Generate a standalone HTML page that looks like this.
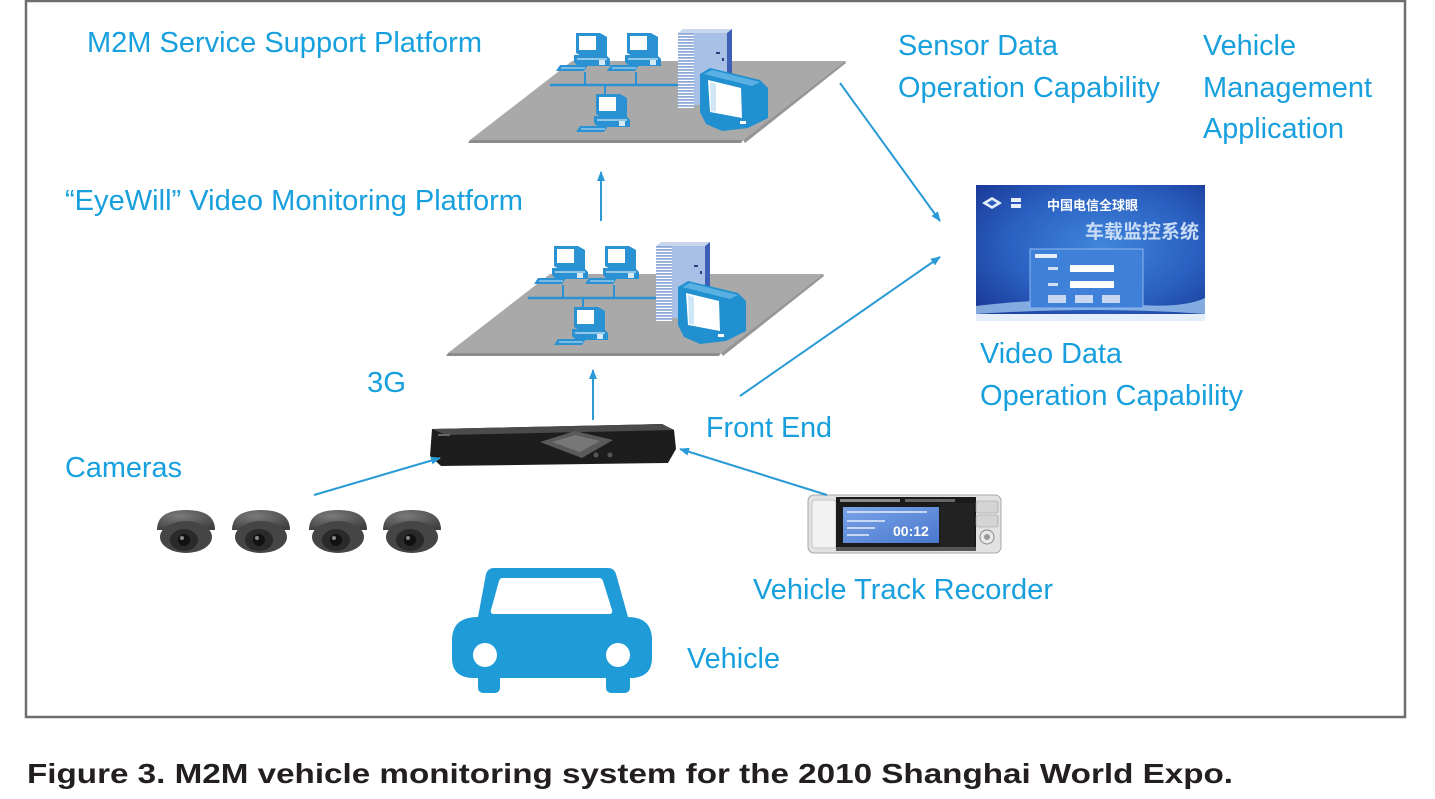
<!DOCTYPE html>
<html>
<head>
<meta charset="utf-8">
<style>
  html,body{margin:0;padding:0;background:#fff;}
  svg{display:block;}
  .lbl{font-family:"Liberation Sans",Arial,sans-serif;font-size:29px;fill:#17a0dd;}
  .cap{font-family:"Liberation Sans",Arial,sans-serif;font-size:28px;font-weight:bold;fill:#231f20;}
  .cjk{font-family:"Liberation Sans","Noto Sans CJK SC",sans-serif;}
</style>
</head>
<body>
<svg width="1435" height="799" viewBox="0 0 1435 799" xmlns="http://www.w3.org/2000/svg">
  <defs>
    <marker id="ah" markerWidth="10" markerHeight="8" refX="9" refY="4" orient="auto" markerUnits="userSpaceOnUse">
      <path d="M0,0 L10,4 L0,8 Z" fill="#2a9ad6"/>
    </marker>
    <pattern id="stripes" width="4" height="3" patternUnits="userSpaceOnUse">
      <rect width="4" height="3" fill="#ffffff"/>
      <rect width="4" height="1.8" fill="#8fa9d8"/>
    </pattern>
    <radialGradient id="appg" cx="0.55" cy="0.45" r="0.7">
      <stop offset="0" stop-color="#3f86dc"/>
      <stop offset="0.6" stop-color="#2a5fc0"/>
      <stop offset="1" stop-color="#1a3a98"/>
    </radialGradient>
    <linearGradient id="lcd" x1="0" y1="0" x2="1" y2="1">
      <stop offset="0" stop-color="#7aa3e6"/>
      <stop offset="1" stop-color="#4a78cf"/>
    </linearGradient>
    <radialGradient id="dome" cx="0.4" cy="0.3" r="0.8">
      <stop offset="0" stop-color="#7a7a7a"/>
      <stop offset="1" stop-color="#3e3e3e"/>
    </radialGradient>
    <g id="pc">
      <polygon points="0,0 24,0 31,4 31,24 7,24 0,20" fill="#2a92d3"/>
      <rect x="3" y="3" width="17" height="14" fill="#fff"/>
      <polygon points="-2,22 30,22 34,26 34,33 2,33 -2,29" fill="#2a92d3"/>
      <line x1="1" y1="26" x2="31" y2="26" stroke="#fff" stroke-width="1"/>
      <rect x="23" y="27" width="6" height="5" fill="#fff" opacity="0.8"/>
      <polygon points="-16,32 12,32 8,38 -20,38" fill="#2a92d3"/>
      <line x1="-15" y1="35" x2="9" y2="35" stroke="#fff" stroke-width="0.8"/>
    </g>
    <g id="platform">
      <polygon points="470,140 572,61 845,61 743,140" fill="#a9a9a9"/>
      <polygon points="470,140 743,140 741,143 468,143" fill="#8c8c8c"/>
      <polygon points="743,140 845,61 846,63 745,143" fill="#959595"/>
      <line x1="550" y1="85" x2="680" y2="85" stroke="#2a92d3" stroke-width="2.5"/>
      <line x1="585" y1="72" x2="585" y2="85" stroke="#2a92d3" stroke-width="2"/>
      <line x1="636" y1="72" x2="636" y2="85" stroke="#2a92d3" stroke-width="2"/>
      <line x1="605" y1="85" x2="605" y2="94" stroke="#2a92d3" stroke-width="2"/>
      <use href="#pc" x="576" y="33"/>
      <use href="#pc" x="627" y="33"/>
      <use href="#pc" x="596" y="94"/>
      <polygon points="678,33 683,29 732,29 727,33" fill="#c8d6ee"/>
      <rect x="678" y="33" width="16" height="75" fill="url(#stripes)"/>
      <rect x="694" y="33" width="33" height="72" fill="#a9c0e6"/>
      <polygon points="727,33 732,29 732,100 727,106" fill="#3d5fb5"/>
      <rect x="716" y="52" width="4" height="2" fill="#2a3f80"/>
      <rect x="722" y="58" width="2" height="3" fill="#2a3f80"/>
      <polygon points="700,74 710,68 760,80 768,88 768,118 748,128 722,131 706,124 700,112" fill="#2090d0"/>
      <polygon points="704,74 712,70 760,82 752,86" fill="#5ab0e3"/>
      <polygon points="708,80 741,88 742,118 710,112" fill="#ffffff"/>
      <polygon points="710,82 716,84 716,112 711,111" fill="#cfe6f6"/>
      <rect x="740" y="121" width="6" height="3" fill="#fff"/>
    </g>
  </defs>

  <rect x="26" y="1" width="1379" height="716" fill="none" stroke="#6e6e6e" stroke-width="2.5"/>

  <use href="#platform"/>
  <use href="#platform" transform="translate(-22,213)"/>

  <rect x="976" y="185" width="229" height="136" fill="url(#appg)"/>
  <path d="M976,306 Q1060,296 1120,303 T1205,298 L1205,314 Q1100,306 976,314 Z" fill="#9cc4ee" opacity="0.8"/>
  <rect x="976" y="314" width="229" height="7" fill="#e4eefa"/>
  <polygon points="992,197 1002,203 992,209 982,203" fill="#e6eefa"/>
  <polygon points="992,200 997,203 992,206 987,203" fill="#2a5fc0"/>
  <rect x="1011" y="198" width="10" height="4" fill="#e6eefa"/>
  <rect x="1011" y="204" width="10" height="4" fill="#e6eefa"/>
  <text x="1047" y="210" class="cjk" font-size="13" font-weight="bold" fill="#ffffff">中国电信全球眼</text>
  <text x="1085" y="238" class="cjk" font-size="19" font-weight="bold" fill="#c9dcf6">车载监控系统</text>
  <rect x="1030" y="249" width="113" height="59" fill="#3f80d8" stroke="#8fb8f0" stroke-width="1"/>
  <rect x="1035" y="254" width="22" height="4" fill="#e6eefa"/>
  <rect x="1070" y="265" width="44" height="7" fill="#fff"/>
  <rect x="1070" y="281" width="44" height="7" fill="#fff"/>
  <rect x="1048" y="267" width="10" height="3" fill="#cfe0f6"/>
  <rect x="1048" y="283" width="10" height="3" fill="#cfe0f6"/>
  <rect x="1048" y="295" width="18" height="8" fill="#c8d8f0"/>
  <rect x="1075" y="295" width="18" height="8" fill="#c8d8f0"/>
  <rect x="1102" y="295" width="18" height="8" fill="#c8d8f0"/>

  <polygon points="432,429 662,424 674,430 676,449 668,463 441,466 430,456" fill="#1d1d1d"/>
  <polygon points="432,429 662,424 674,430 446,435" fill="#4b4b4b"/>
  <polygon points="540,442 575,431 613,440 582,458" fill="#5a5a5a"/>
  <polygon points="552,442 575,435 600,441 580,452" fill="#777"/>
  <circle cx="596" cy="455" r="2.5" fill="#555"/>
  <circle cx="610" cy="455" r="2.5" fill="#555"/>
  <rect x="438" y="434" width="12" height="2" fill="#666"/>

  <g>
    <g transform="translate(186,0)">
      <path d="M-29,530 Q-29,510 0,510 Q29,510 29,530 Z" fill="url(#dome)"/>
      <ellipse cx="0" cy="537" rx="26" ry="16" fill="#454545"/>
      <ellipse cx="-2" cy="540" rx="14" ry="11" fill="#2a2a2a"/>
      <circle cx="-2" cy="540" r="6" fill="#111"/>
      <circle cx="-4" cy="538" r="2" fill="#888"/>
    </g>
    <g transform="translate(261,0)">
      <path d="M-29,530 Q-29,510 0,510 Q29,510 29,530 Z" fill="url(#dome)"/>
      <ellipse cx="0" cy="537" rx="26" ry="16" fill="#454545"/>
      <ellipse cx="-2" cy="540" rx="14" ry="11" fill="#2a2a2a"/>
      <circle cx="-2" cy="540" r="6" fill="#111"/>
      <circle cx="-4" cy="538" r="2" fill="#888"/>
    </g>
    <g transform="translate(338,0)">
      <path d="M-29,530 Q-29,510 0,510 Q29,510 29,530 Z" fill="url(#dome)"/>
      <ellipse cx="0" cy="537" rx="26" ry="16" fill="#454545"/>
      <ellipse cx="-2" cy="540" rx="14" ry="11" fill="#2a2a2a"/>
      <circle cx="-2" cy="540" r="6" fill="#111"/>
      <circle cx="-4" cy="538" r="2" fill="#888"/>
    </g>
    <g transform="translate(412,0)">
      <path d="M-29,530 Q-29,510 0,510 Q29,510 29,530 Z" fill="url(#dome)"/>
      <ellipse cx="0" cy="537" rx="26" ry="16" fill="#454545"/>
      <ellipse cx="-2" cy="540" rx="14" ry="11" fill="#2a2a2a"/>
      <circle cx="-2" cy="540" r="6" fill="#111"/>
      <circle cx="-4" cy="538" r="2" fill="#888"/>
    </g>
  </g>

  <rect x="808" y="495" width="193" height="58" rx="6" fill="#e2e2e2" stroke="#a8a8a8" stroke-width="1"/>
  <rect x="812" y="500" width="24" height="48" rx="3" fill="#f2f2f2" stroke="#bbb" stroke-width="0.8"/>
  <rect x="836" y="497" width="140" height="54" fill="#1a1a1a"/>
  <rect x="843" y="507" width="96" height="36" fill="url(#lcd)"/>
  <rect x="940" y="503" width="34" height="44" fill="#222"/>
  <rect x="840" y="499" width="60" height="3" fill="#bbb" opacity="0.7"/>
  <rect x="905" y="499" width="50" height="3" fill="#888" opacity="0.7"/>
  <rect x="847" y="511" width="80" height="2" fill="#dfe8f8" opacity="0.8"/>
  <rect x="847" y="520" width="38" height="2" fill="#dfe8f8" opacity="0.8"/>
  <rect x="847" y="527" width="28" height="2" fill="#dfe8f8" opacity="0.8"/>
  <rect x="847" y="534" width="22" height="2" fill="#dfe8f8" opacity="0.8"/>
  <text x="893" y="536" font-family="Liberation Sans, sans-serif" font-size="14" font-weight="bold" fill="#fff">00:12</text>
  <rect x="976" y="501" width="22" height="12" rx="2" fill="#d4d4d4" stroke="#999" stroke-width="0.6"/>
  <rect x="976" y="515" width="22" height="12" rx="2" fill="#d4d4d4" stroke="#999" stroke-width="0.6"/>
  <circle cx="987" cy="537" r="7" fill="#e8e8e8" stroke="#888" stroke-width="1"/>
  <circle cx="987" cy="537" r="3" fill="#999"/>
  <rect x="836" y="547" width="140" height="4" fill="#555"/>

  <g fill="#1f9bd7">
    <path d="M494,568 L608,568 Q614,568 616,574 L628,617 L490,617 Q480,617 478,617 L486,574 Q488,568 494,568 Z"/>
    <path d="M478,617 L628,617 Q652,617 652,640 L652,658 Q652,678 630,678 L474,678 Q452,678 452,658 L452,640 Q452,617 478,617 Z"/>
    <rect x="478" y="670" width="22" height="23" rx="5"/>
    <rect x="606" y="670" width="24" height="23" rx="5"/>
  </g>
  <path d="M502,578 L599,578 Q602,578 603,581 L612,610 Q613,614 609,614 L494,614 Q490,614 491,610 L499,581 Q500,578 502,578 Z" fill="#fff"/>
  <circle cx="485" cy="655" r="12" fill="#fff"/>
  <circle cx="618" cy="655" r="12" fill="#fff"/>

  <g stroke="#2a9ad6" stroke-width="2" fill="none">
    <line x1="601" y1="221" x2="601" y2="172" marker-end="url(#ah)"/>
    <line x1="593" y1="420" x2="593" y2="370" marker-end="url(#ah)"/>
    <line x1="840" y1="83" x2="940" y2="221" marker-end="url(#ah)"/>
    <line x1="740" y1="396" x2="940" y2="257" marker-end="url(#ah)"/>
    <line x1="314" y1="495" x2="440" y2="458" marker-end="url(#ah)"/>
    <line x1="827" y1="495" x2="680" y2="449" marker-end="url(#ah)"/>
  </g>

  <text class="lbl" x="87" y="52" textLength="395" lengthAdjust="spacingAndGlyphs">M2M Service Support Platform</text>
  <text class="lbl" x="898" y="55" textLength="160" lengthAdjust="spacingAndGlyphs">Sensor Data</text>
  <text class="lbl" x="898" y="97" textLength="262" lengthAdjust="spacingAndGlyphs">Operation Capability</text>
  <text class="lbl" x="1203" y="55" textLength="93" lengthAdjust="spacingAndGlyphs">Vehicle</text>
  <text class="lbl" x="1203" y="97" textLength="169" lengthAdjust="spacingAndGlyphs">Management</text>
  <text class="lbl" x="1203" y="138" textLength="141" lengthAdjust="spacingAndGlyphs">Application</text>
  <text class="lbl" x="65" y="210" textLength="458" lengthAdjust="spacingAndGlyphs">“EyeWill” Video Monitoring Platform</text>
  <text class="lbl" x="367" y="392" textLength="39" lengthAdjust="spacingAndGlyphs">3G</text>
  <text class="lbl" x="706" y="437" textLength="126" lengthAdjust="spacingAndGlyphs">Front End</text>
  <text class="lbl" x="65" y="477" textLength="117" lengthAdjust="spacingAndGlyphs">Cameras</text>
  <text class="lbl" x="980" y="363" textLength="142" lengthAdjust="spacingAndGlyphs">Video Data</text>
  <text class="lbl" x="980" y="405" textLength="263" lengthAdjust="spacingAndGlyphs">Operation Capability</text>
  <text class="lbl" x="753" y="599" textLength="300" lengthAdjust="spacingAndGlyphs">Vehicle Track Recorder</text>
  <text class="lbl" x="687" y="668" textLength="93" lengthAdjust="spacingAndGlyphs">Vehicle</text>

  <text class="cap" x="27" y="783" textLength="1206" lengthAdjust="spacingAndGlyphs">Figure 3. M2M vehicle monitoring system for the 2010 Shanghai World Expo.</text>
</svg>
</body>
</html>
